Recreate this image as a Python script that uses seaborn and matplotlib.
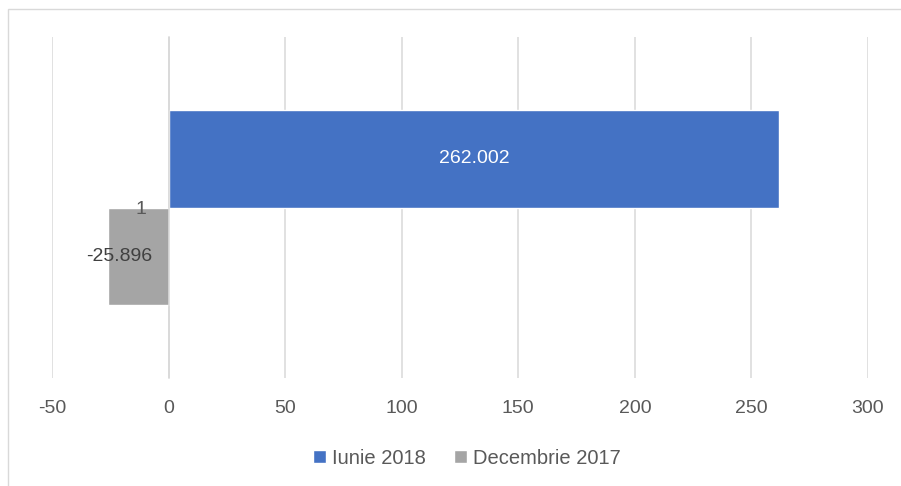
import pandas as pd
import numpy as np
import matplotlib.pyplot as plt
import seaborn as sns
from matplotlib.patches import Rectangle

# date
categorii = ["1"]
serii = ["Iunie 2018", "Decembrie 2017"]
valori_iunie_2018 = [262.002]
valori_decembrie_2017 = [-25.896]
culori = ["#4472C4", "#A5A5A5"]
x_ticks = [-50, 0, 50, 100, 150, 200, 250, 300]

df = pd.DataFrame({
    "Categorie": categorii * 2,
    "Serie": [serii[0]] * len(valori_iunie_2018) + [serii[1]] * len(valori_decembrie_2017),
    "Valoare": valori_iunie_2018 + valori_decembrie_2017,
})

sns.set_theme(style="white")
plt.rcParams["font.family"] = ["Liberation Sans", "DejaVu Sans"]

fig = plt.figure(figsize=(9.01, 4.86), dpi=100)
ax = fig.add_axes([52 / 901, 1 - 378 / 486, (868 - 52) / 901, (378 - 37) / 486])

sns.barplot(data=df, x="Valoare", y="Categorie", hue="Serie", hue_order=serii,
            palette=culori, orient="h", width=0.57, saturation=1, ax=ax, legend=True)

ax.set_xlim(-50, 300)
ax.set_ylim(0.5, -0.5)
ax.set_xticks(x_ticks)
ax.set_xticklabels([str(t) for t in x_ticks])
ax.grid(axis="x", color="#D9D9D9", linewidth=1.1)
ax.set_axisbelow(True)
ax.yaxis.set_zorder(5)  # eticheta "1" peste bara gri
ax.set_xlabel("")
ax.set_ylabel("")

for s in ["top", "right", "bottom"]:
    ax.spines[s].set_visible(False)
ax.spines["left"].set_position(("data", 0))
ax.spines["left"].set_color("#D9D9D9")
ax.spines["left"].set_linewidth(1.1)

ax.tick_params(axis="x", length=0, pad=16, labelsize=14, labelcolor="#595959")
ax.tick_params(axis="y", length=0, pad=16, labelsize=14, labelcolor="#595959")

# etichete de date
for cont, cul, dx in zip(ax.containers, ["white", "#404040"], [0, -14]):
    for bar, val in zip(cont, cont.datavalues):
        cx = bar.get_x() + bar.get_width() / 2
        cy = bar.get_y() + bar.get_height() / 2
        ax.annotate(f"{val:.3f}", (cx, cy), xytext=(dx, 0), textcoords="offset points",
                    ha="center", va="center", color=cul, fontsize=14)

# legenda jos
handles, labels = ax.get_legend_handles_labels()
ax.get_legend().remove()
fig.legend(handles, labels, loc="center", bbox_to_anchor=(467 / 901, 1 - 458 / 486),
           ncol=2, frameon=False, fontsize=14.5, labelcolor="#595959",
           handlelength=0.65, handleheight=0.65, handletextpad=0.3, columnspacing=1.4)

# chenar
fig.patches.append(Rectangle((8 / 901, -0.2), 1.2, 1.2 - 9 / 486, transform=fig.transFigure,
                             fill=False, edgecolor="#D9D9D9", linewidth=1.0))

plt.savefig("out.png", dpi=100)
plt.close()
